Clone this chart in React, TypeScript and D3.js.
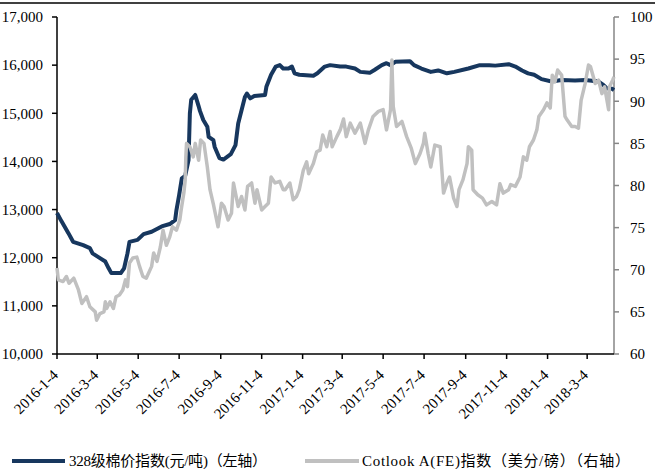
import React, { useMemo } from 'react';
import * as d3 from 'd3';

const WIDTH = 655;
const HEIGHT = 469;

// 328级棉价指数 (元/吨), left axis
const cottonDates = [
  '2016-01-04', '2016-01-11', '2016-01-21', '2016-01-28', '2016-02-12', '2016-02-22', '2016-02-26', '2016-03-08',
  '2016-03-16', '2016-03-21', '2016-03-25', '2016-04-08', '2016-04-13', '2016-04-18', '2016-04-21', '2016-05-03',
  '2016-05-12', '2016-05-24', '2016-06-08', '2016-06-20', '2016-06-28', '2016-06-30', '2016-07-04', '2016-07-08',
  '2016-07-13', '2016-07-18', '2016-07-20', '2016-07-22', '2016-07-28', '2016-08-02', '2016-08-04', '2016-08-09',
  '2016-08-15', '2016-08-17', '2016-08-24', '2016-08-26', '2016-09-02', '2016-09-08', '2016-09-19', '2016-09-26',
  '2016-09-30', '2016-10-10', '2016-10-13', '2016-10-18', '2016-10-24', '2016-11-09', '2016-11-11', '2016-11-18',
  '2016-11-25', '2016-12-01', '2016-12-06', '2016-12-14', '2016-12-19', '2016-12-23', '2016-12-30', '2017-01-20',
  '2017-01-26', '2017-02-06', '2017-02-14', '2017-03-01', '2017-03-10', '2017-03-23', '2017-03-31', '2017-04-14',
  '2017-04-21', '2017-05-02', '2017-05-09', '2017-05-15', '2017-05-22', '2017-06-13', '2017-06-19', '2017-06-30',
  '2017-07-14', '2017-07-25', '2017-08-07', '2017-08-18', '2017-09-08', '2017-09-25', '2017-10-09', '2017-10-18',
  '2017-11-07', '2017-11-17', '2017-11-27', '2017-12-06', '2017-12-15', '2017-12-26', '2018-01-10', '2018-01-25',
  '2018-02-14', '2018-03-01', '2018-03-21', '2018-03-28', '2018-04-02', '2018-04-10', '2018-04-13',
];
const cottonValues = [
  12930, 12750, 12510, 12330, 12260, 12200, 12090, 11990,
  11920, 11780, 11680, 11680, 11780, 12090, 12330, 12370,
  12490, 12540, 12650, 12700, 12780, 12990, 13300, 13650,
  13700, 14030, 15000, 15280, 15380, 15150, 15050, 14860,
  14720, 14510, 14440, 14300, 14070, 14040, 14150, 14340,
  14790, 15340, 15410, 15310, 15360, 15380, 15550, 15800,
  15970, 16000, 15930, 15930, 15970, 15830, 15800, 15780,
  15830, 15970, 16000, 15970, 15970, 15930, 15860, 15840,
  15900, 16000, 16040, 16000, 16070, 16080, 16000, 15930,
  15860, 15890, 15830, 15860, 15930, 16000, 16000, 15990,
  16020, 15970, 15890, 15830, 15800, 15710, 15660, 15690,
  15680, 15690, 15660, 15590, 15520, 15510, 15480,
];

// Cotlook A(FE)指数 (美分/磅), right axis
const cotlookDates = [
  '2016-01-04', '2016-01-06', '2016-01-13', '2016-01-18', '2016-01-22', '2016-01-29', '2016-02-05', '2016-02-10',
  '2016-02-17', '2016-02-22', '2016-03-01', '2016-03-03', '2016-03-08', '2016-03-14', '2016-03-16', '2016-03-18',
  '2016-03-23', '2016-03-28', '2016-04-01', '2016-04-06', '2016-04-11', '2016-04-15', '2016-04-18', '2016-04-21',
  '2016-04-26', '2016-05-02', '2016-05-06', '2016-05-11', '2016-05-16', '2016-05-24', '2016-05-27', '2016-06-01',
  '2016-06-06', '2016-06-10', '2016-06-15', '2016-06-20', '2016-06-24', '2016-06-30', '2016-07-05', '2016-07-07',
  '2016-07-11', '2016-07-13', '2016-07-14', '2016-07-15', '2016-07-20', '2016-07-25', '2016-07-28', '2016-08-02',
  '2016-08-05', '2016-08-10', '2016-08-15', '2016-08-19', '2016-08-24', '2016-08-31', '2016-09-05', '2016-09-09',
  '2016-09-15', '2016-09-20', '2016-09-23', '2016-09-30', '2016-10-05', '2016-10-10', '2016-10-14', '2016-10-20',
  '2016-10-25', '2016-10-28', '2016-11-04', '2016-11-09', '2016-11-14', '2016-11-18', '2016-11-24', '2016-12-01',
  '2016-12-06', '2016-12-09', '2016-12-16', '2016-12-21', '2016-12-26', '2016-12-30', '2017-01-05', '2017-01-10',
  '2017-01-13', '2017-01-20', '2017-01-25', '2017-01-30', '2017-02-03', '2017-02-09', '2017-02-14', '2017-02-17',
  '2017-02-24', '2017-03-01', '2017-03-06', '2017-03-10', '2017-03-16', '2017-03-23', '2017-03-31', '2017-04-07',
  '2017-04-12', '2017-04-19', '2017-04-27', '2017-05-04', '2017-05-09', '2017-05-15', '2017-05-17', '2017-05-19',
  '2017-05-24', '2017-06-01', '2017-06-08', '2017-06-15', '2017-06-21', '2017-06-28', '2017-07-03', '2017-07-05',
  '2017-07-10', '2017-07-14', '2017-07-20', '2017-07-28', '2017-08-02', '2017-08-07', '2017-08-11', '2017-08-17',
  '2017-08-22', '2017-08-25', '2017-08-31', '2017-09-06', '2017-09-08', '2017-09-13', '2017-09-15', '2017-09-22',
  '2017-09-29', '2017-10-05', '2017-10-13', '2017-10-20', '2017-10-25', '2017-10-30', '2017-11-07', '2017-11-10',
  '2017-11-17', '2017-11-24', '2017-11-29', '2017-12-04', '2017-12-08', '2017-12-14', '2017-12-19', '2017-12-22',
  '2017-12-29', '2018-01-03', '2018-01-08', '2018-01-11', '2018-01-15', '2018-01-19', '2018-01-25', '2018-01-30',
  '2018-02-02', '2018-02-09', '2018-02-14', '2018-02-19', '2018-02-23', '2018-03-01', '2018-03-06', '2018-03-09',
  '2018-03-16', '2018-03-21', '2018-03-26', '2018-03-30', '2018-04-05', '2018-04-06', '2018-04-11', '2018-04-13',
];
const cotlookValues = [
  70.2, 68.8, 68.6, 69.2, 68.4, 69.0, 67.6, 66.0,
  66.8, 65.6, 65.0, 64.0, 64.8, 65.0, 66.2, 65.4,
  66.2, 65.4, 66.8, 67.0, 67.6, 68.8, 68.0, 70.8,
  71.4, 71.5, 70.4, 69.2, 69.0, 70.4, 72.0, 71.0,
  72.7, 74.7, 72.9, 73.9, 75.1, 74.7, 75.9, 77.1,
  79.1, 80.6, 83.4, 85.0, 84.6, 83.4, 85.0, 83.0,
  85.4, 85.0, 82.2, 79.5, 77.8, 75.1, 77.9, 77.5,
  75.9, 76.7, 80.3, 77.5, 78.7, 77.1, 79.9, 80.3,
  77.9, 79.5, 77.1, 77.5, 77.9, 81.0, 80.3, 80.5,
  79.5, 79.5, 80.3, 78.3, 78.7, 79.5, 81.8, 82.8,
  81.4, 82.6, 84.0, 84.2, 86.0, 84.6, 86.4, 84.6,
  85.8, 86.6, 87.9, 85.8, 87.4, 86.2, 87.4, 85.0,
  86.6, 88.2, 88.8, 89.0, 86.6, 89.0, 94.9, 89.4,
  87.0, 87.6, 85.8, 84.4, 82.6, 83.8, 85.0, 86.2,
  83.8, 82.2, 84.8, 84.6, 79.1, 80.3, 81.0, 78.5,
  77.5, 79.5, 80.7, 82.6, 84.6, 84.2, 79.5, 78.9,
  78.5, 77.7, 78.1, 77.7, 80.2, 79.1, 79.5, 80.1,
  79.9, 81.0, 83.4, 83.0, 84.6, 85.4, 86.6, 88.2,
  89.0, 89.8, 89.2, 93.1, 92.3, 93.7, 93.1, 88.2,
  87.8, 87.0, 87.0, 86.8, 90.1, 92.1, 94.3, 94.1,
  92.1, 92.5, 90.9, 91.7, 89.0, 91.7, 92.5, 92.9,
];

const xTickLabels = [
  '2016-1-4', '2016-3-4', '2016-5-4', '2016-7-4', '2016-9-4', '2016-11-4', '2017-1-4',
  '2017-3-4', '2017-5-4', '2017-7-4', '2017-9-4', '2017-11-4', '2018-1-4', '2018-3-4',
];
const leftTicks = [10000, 11000, 12000, 13000, 14000, 15000, 16000, 17000];
const rightTicks = [60, 65, 70, 75, 80, 85, 90, 95, 100];
const seriesNames = ['328级棉价指数(元/吨)（左轴）', 'Cotlook A(FE)指数（美分/磅）（右轴）'];

const NAVY = '#17375e';
const GREY = '#c0c0c0';
const FONT = '"Liberation Serif", "Times New Roman", "Noto Sans CJK SC", serif';

const parse = d3.timeParse('%Y-%m-%d');

export default function App() {
  const margin = { top: 17, right: 41, bottom: 115, left: 57 };
  const plotBottom = HEIGHT - margin.bottom;
  const plotRight = WIDTH - margin.right;

  const x = useMemo(
    () =>
      d3
        .scaleTime()
        .domain([parse('2016-01-04') as Date, parse('2018-04-13') as Date])
        .range([margin.left, plotRight]),
    [],
  );
  const yLeft = useMemo(() => d3.scaleLinear().domain([10000, 17000]).range([plotBottom, margin.top]), []);
  const yRight = useMemo(() => d3.scaleLinear().domain([60, 100]).range([plotBottom, margin.top]), []);

  const cottonPath = d3
    .line<number>()
    .x((_, i) => x(parse(cottonDates[i]) as Date))
    .y((v) => yLeft(v))(cottonValues);

  const cotlookPath = d3
    .line<number>()
    .x((_, i) => x(parse(cotlookDates[i]) as Date))
    .y((v) => yRight(v))(cotlookValues);

  const fmt = d3.format(',');

  return (
    <svg
      width={WIDTH}
      height={HEIGHT}
      style={{ position: 'absolute', left: 0, top: 0, background: '#fff' }}
      fontFamily={FONT}
    >
      <line x1={0} x2={WIDTH} y1={3} y2={3} stroke="#000" strokeWidth={1.5} />

      {/* left axis */}
      <line x1={margin.left} x2={margin.left} y1={margin.top} y2={plotBottom} stroke="#000" strokeWidth={1.5} />
      {leftTicks.map((t) => (
        <g key={t}>
          <line x1={margin.left - 5} x2={margin.left} y1={yLeft(t)} y2={yLeft(t)} stroke="#000" strokeWidth={1.5} />
          <text x={43} y={yLeft(t)} dy="0.35em" textAnchor="end" fontSize={15} fill="#000">
            {fmt(t)}
          </text>
        </g>
      ))}

      {/* right axis */}
      <line x1={plotRight} x2={plotRight} y1={margin.top} y2={plotBottom} stroke="#868686" strokeWidth={1.5} />
      {rightTicks.map((t) => (
        <g key={t}>
          <line x1={plotRight} x2={plotRight + 5} y1={yRight(t)} y2={yRight(t)} stroke="#868686" strokeWidth={1.5} />
          <text x={630} y={yRight(t)} dy="0.35em" fontSize={15} fill="#000">
            {t}
          </text>
        </g>
      ))}

      {/* bottom axis */}
      <line x1={margin.left} x2={plotRight} y1={plotBottom} y2={plotBottom} stroke="#000" strokeWidth={1.5} />
      {xTickLabels.map((label) => {
        const px = x(parse(label) as Date);
        return (
          <g key={label}>
            <line x1={px} x2={px} y1={plotBottom} y2={plotBottom + 5} stroke="#000" strokeWidth={1.5} />
            <text
              transform={`translate(${px + 2}, ${plotBottom + 22}) rotate(-45)`}
              textAnchor="end"
              fontSize={15}
              fill="#000"
            >
              {label}
            </text>
          </g>
        );
      })}

      <path d={cottonPath ?? ''} fill="none" stroke={NAVY} strokeWidth={4} strokeLinejoin="round" />
      <path d={cotlookPath ?? ''} fill="none" stroke={GREY} strokeWidth={3.5} strokeLinejoin="round" />

      {/* legend */}
      <line x1={12} x2={65} y1={461} y2={461} stroke={NAVY} strokeWidth={4} />
      <text x={69} y={461} dy="0.35em" fontSize={15} fill="#000" textLength={198} lengthAdjust="spacing">
        {seriesNames[0]}
      </text>
      <line x1={305} x2={359} y1={461} y2={461} stroke={GREY} strokeWidth={4} />
      <text x={362} y={461} dy="0.35em" fontSize={15} fill="#000" textLength={268} lengthAdjust="spacing">
        {seriesNames[1]}
      </text>
    </svg>
  );
}
